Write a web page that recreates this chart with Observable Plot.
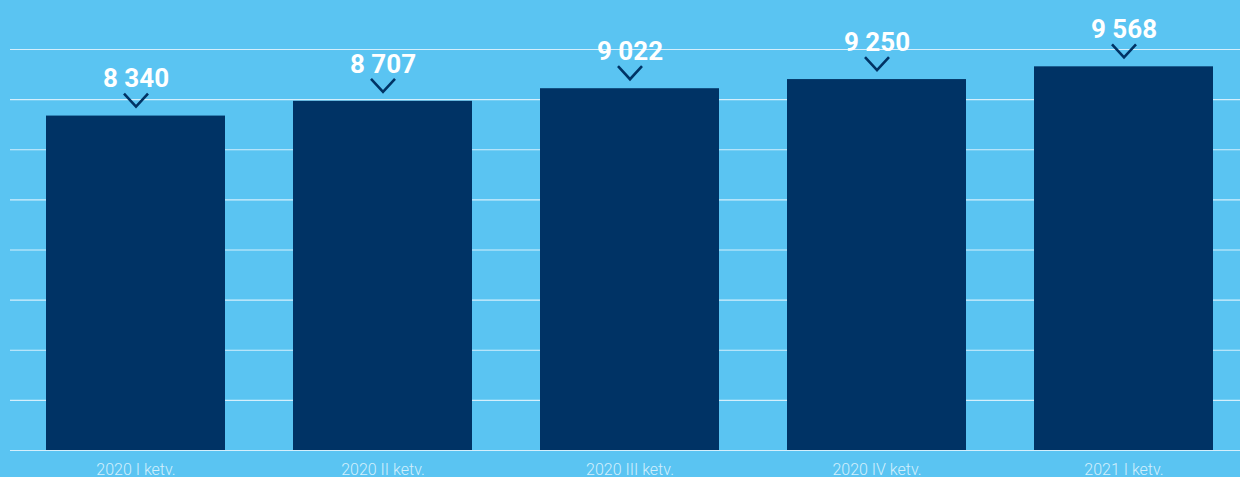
<!DOCTYPE html>
<html>
<head>
<meta charset="utf-8">
<script src="https://cdn.jsdelivr.net/npm/d3@7"></script>
<script src="https://cdn.jsdelivr.net/npm/@observablehq/plot@0.6"></script>
<style>
  html, body { margin: 0; padding: 0; background: #5ac4f2; overflow: hidden; }
  #chart svg { display: block; }
</style>
</head>
<body>
<div id="chart"></div>
<script>
const categories = ["2020 I ketv.", "2020 II ketv.", "2020 III ketv.", "2020 IV ketv.", "2021 I ketv."];
const values = [8340, 8707, 9022, 9250, 9568];
const gridTicks = [0, 1250, 2500, 3750, 5000, 6250, 7500, 8750, 10000];

const data = categories.map((c, i) => ({category: c, value: values[i]}));
const fmt = d3.formatLocale({decimal: ",", thousands: "\u00a0", grouping: [3], currency: ["", ""]}).format(",d");

const chevron = {
  draw(context) {
    context.moveTo(-12, -6.5);
    context.lineTo(0, 6.5);
    context.lineTo(12, -6.5);
  }
};

const chart = Plot.plot({
  width: 1240,
  height: 477,
  marginTop: 49,
  marginBottom: 27,
  marginLeft: 10,
  marginRight: 0,
  style: {background: "#5ac4f2", fontFamily: "Roboto, sans-serif", overflow: "visible"},
  x: {domain: categories, range: [10.25, 1247.75], paddingInner: 0.277, paddingOuter: 0.1385, label: null},
  y: {domain: [0, 10000], axis: null},
  marks: [
    Plot.ruleY(gridTicks, {stroke: "#d4effc", strokeWidth: 1.2}),
    Plot.barY(data, {x: "category", y: "value", fill: "#003365"}),
    Plot.dot(data, {x: "category", y: "value", symbol: chevron, r: 5, fill: "none", stroke: "#003365", strokeWidth: 2.6, dy: -16}),
    Plot.text(data, {x: "category", y: "value", text: d => fmt(d.value), dy: -37, fill: "white", fontSize: 26, fontWeight: 700, fontFamily: "Roboto, sans-serif", textAnchor: "middle"}),
    Plot.axisX({tickSize: 0, tickPadding: 13.5, fontSize: 16, fill: "#d2effc", fontWeight: 300, label: null})
  ]
});
document.getElementById("chart").appendChild(chart);
</script>
</body>
</html>
